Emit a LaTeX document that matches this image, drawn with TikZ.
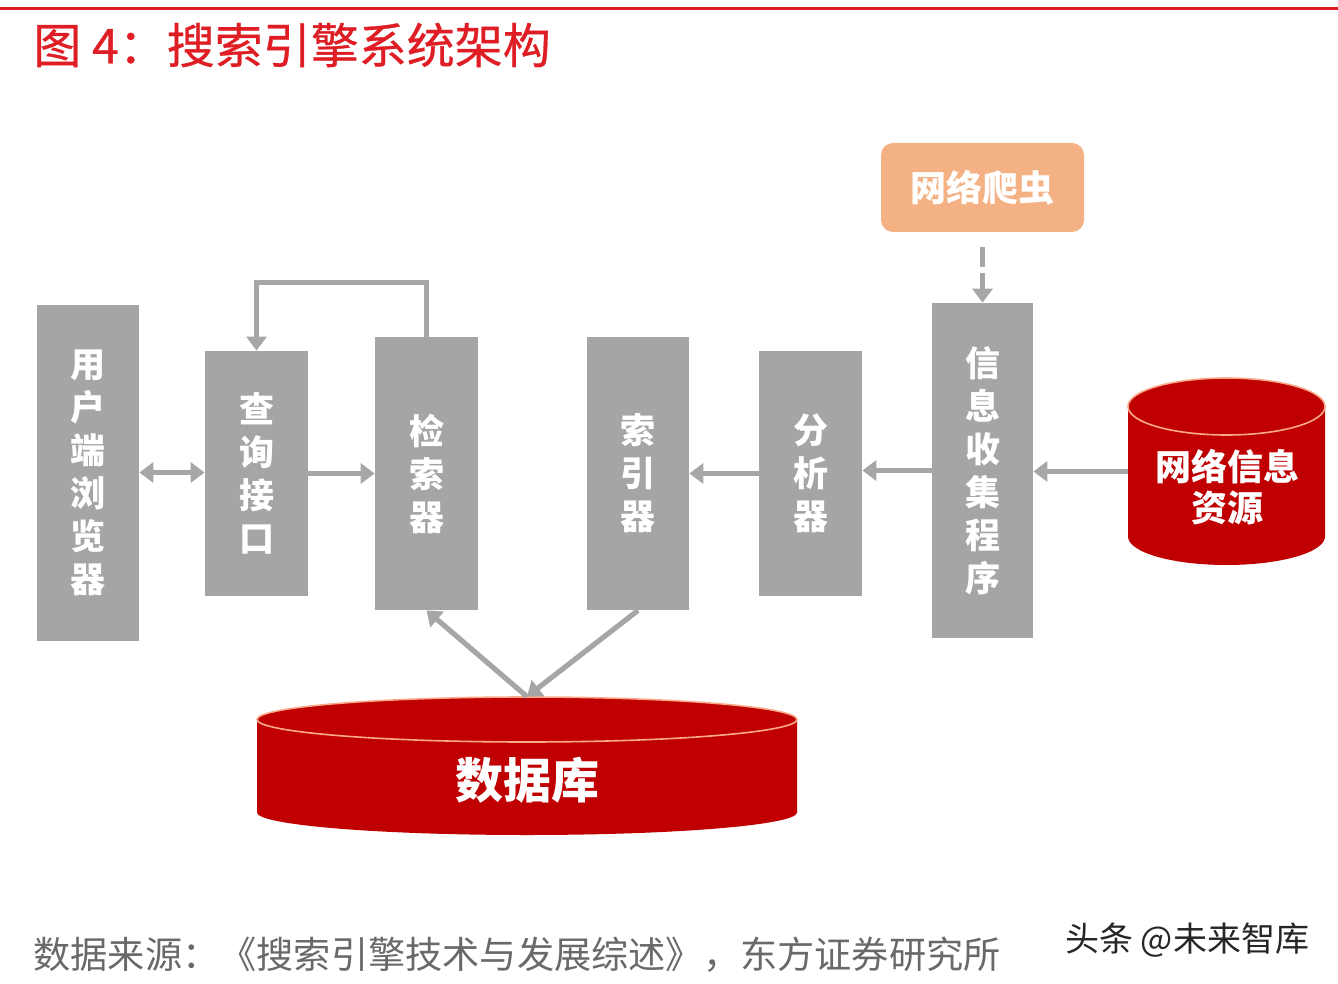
\documentclass[tikz,border=0pt]{standalone}
\usepackage{fontspec}
\setmainfont{Noto Sans CJK SC}
\newfontfamily\titlefont{Noto Sans CJK SC}[FakeBold=0.6]
\usetikzlibrary{arrows.meta,positioning}
\definecolor{boxgray}{RGB}{165,165,165}
\definecolor{arrowgray}{RGB}{166,166,166}
\definecolor{dbred}{RGB}{192,0,0}
\definecolor{rimorange}{RGB}{250,170,140}
\definecolor{crawlorange}{RGB}{244,177,131}
\definecolor{titlered}{RGB}{222,30,36}
\definecolor{notegray}{RGB}{105,105,105}
\tikzset{
  block/.style={fill=boxgray, text=white, font=\bfseries\fontsize{17.5}{21.5}\selectfont,
    align=center, inner sep=0pt, minimum width=51pt},
  link/.style={draw=arrowgray, line width=2.6pt, -{Triangle[width=10pt,length=7pt]}},
  whitetext/.style={text=white, font=\bfseries\fontsize{18}{20.5}\selectfont, align=center, inner sep=0pt}
}

\begin{document}
\begin{tikzpicture}[x=0.5pt,y=-0.5pt]
    \useasboundingbox (0,0) rectangle (1338,984);
    % title
    \draw[titlered, line width=1.5pt] (0,9) -- (1338,9);
    \node[anchor=west, inner sep=0pt, text=titlered, font=\titlefont\fontsize{24}{24}\selectfont] (title) at (33,45) {图 4：搜索引擎系统架构};

    % gray blocks
    \node[block, minimum height=168pt] (user) at (88,472.5) {用\\户\\端\\浏\\览\\器};
    \node[block, minimum width=51.5pt, minimum height=122.5pt] (query) at (256.5,473.5) {查\\询\\接\\口};
    \node[block, minimum width=51.5pt, minimum height=136.5pt] (retr) at (426.5,473.5) {检\\索\\器};
    \node[block, minimum height=136.5pt] (index) at (638,473.5) {索\\引\\器};
    \node[block, minimum width=51.5pt, minimum height=122.5pt] (anal) at (810.5,473.5) {分\\析\\器};
    \node[block, minimum width=50.5pt, minimum height=167.5pt] (collect) at (982.5,470.5) {信\\息\\收\\集\\程\\序};
    \node[whitetext, fill=crawlorange, rounded corners=6pt, minimum width=101.5pt, minimum height=44.5pt] (crawler) at (982.5,187.5) {网络爬虫};

    % cylinders
    \fill[dbred] (257,719.5) -- (257,812.5) arc[start angle=180, end angle=360, x radius=135pt, y radius=11.25pt]
      -- (797,719.5) arc[start angle=0, end angle=180, x radius=135pt, y radius=11.25pt] -- cycle;
    \draw[rimorange, line width=0.8pt] (527,719.5) ellipse[x radius=135pt, y radius=11.25pt];
    \node[minimum width=270pt, minimum height=69pt, inner sep=0pt] (db) at (527,766) {};
    \node[whitetext, font=\bfseries\fontsize{24}{24}\selectfont] (dbtext) at (527,780) {数据库};

    \fill[dbred] (1128,406.5) -- (1128,536.5) arc[start angle=180, end angle=360, x radius=49.25pt, y radius=14.25pt]
      -- (1325,406.5) arc[start angle=0, end angle=180, x radius=49.25pt, y radius=14.25pt] -- cycle;
    \draw[rimorange, line width=0.8pt] (1226.5,406.5) ellipse[x radius=49.25pt, y radius=14.25pt];
    \node[minimum width=98.5pt, minimum height=93.5pt, inner sep=0pt] (res) at (1226.5,471.5) {};
    \node[whitetext] (restext) at (1227,487) {网络信息\\资源};

    % connectors
    \draw[link, {Triangle[width=10pt,length=7pt]}-{Triangle[width=10pt,length=7pt]}] (user.east) -- (user.east -| query.west);
    \draw[link] (query.east) -- (query.east -| retr.west);
    \draw[link] (retr.north) -- ++(0,-54) -| (query.north);
    \draw[link] (anal.west) -- (anal.west -| index.east);
    \draw[link] (collect.west) -- (collect.west -| anal.east);
    \draw[link] (res.west) -- (res.west -| collect.east);
    \draw[link, dash pattern=on 10pt off 3pt, shorten <=7.5pt] (crawler.south) -- (collect.north);
    \draw[link] (db.north) -- (retr.south);
    \draw[link] (index.south) -- (db.north);

    % source
    \node[anchor=west, inner sep=0pt, text=notegray, font=\fontsize{18.6}{18.6}\selectfont] (source) at (33,955) {数据来源：《搜索引擎技术与发展综述》，东方证券研究所};
    \node[anchor=west, inner sep=0pt, text=black!85, font=\fontsize{17}{17}\selectfont] (mark) at (1065,940) {头条 @未来智库};
\end{tikzpicture}
\end{document}
